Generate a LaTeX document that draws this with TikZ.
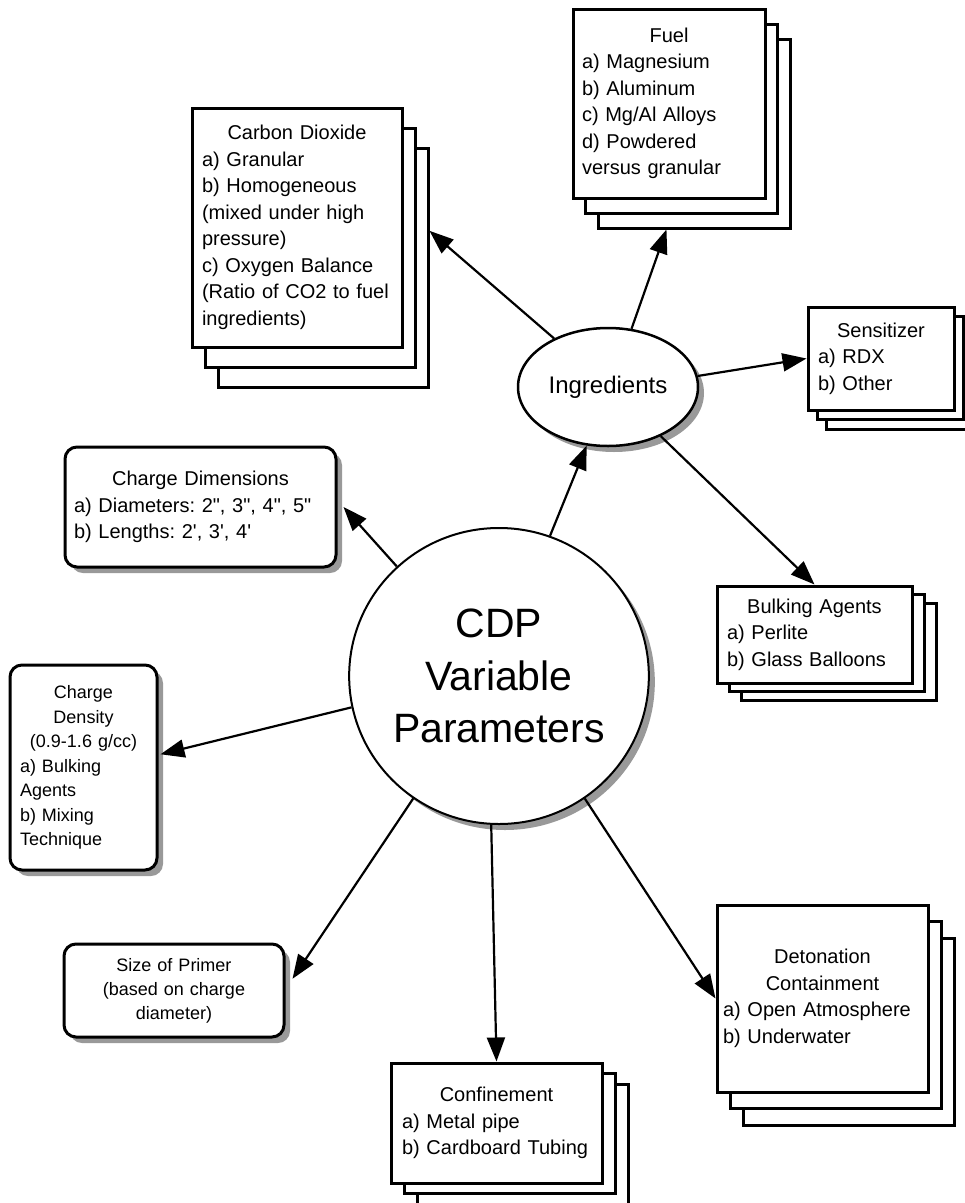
\documentclass[tikz,border=0pt]{standalone}
\usepackage{fontspec}
\newfontfamily\hv{Liberation Sans}
\usetikzlibrary{shapes.geometric,shadows,arrows.meta}
\newcommand\ctrline[1]{\makebox[\hsize]{#1}}
\frenchspacing
\begin{document}
\begin{tikzpicture}[x=1pt,y=-1pt,
  txt/.style={font=\hv\frenchspacing\fontsize{20}{26.5}\selectfont},
  smalltxt/.style={font=\hv\frenchspacing\fontsize{18}{24.5}\selectfont},
  page/.style={draw, line width=3pt, fill=white, rectangle, inner sep=0pt},
  pagetxt/.style={page, txt, align=left},
  sh/.style={drop shadow={shadow xshift=6pt, shadow yshift=-6pt, fill=black!40, opacity=1}},
  rbox/.style={draw, line width=3pt, fill=white, rectangle, rounded corners=12pt, inner sep=0pt, sh},
  arr/.style={line width=2.2pt, -{Triangle[length=24pt,width=18pt]}},
]
\fill[white] (0,0) rectangle (965,1203);
\useasboundingbox (0,0) rectangle (965,1203);

% Carbon Dioxide stack
\node[page, minimum width=210pt, minimum height=239pt] (co2-3) at (323,267.5) {};
\node[page, minimum width=210pt, minimum height=239pt] (co2-2) at (310,247.5) {};
\node[pagetxt, minimum width=210pt, minimum height=239pt, text width=190pt, inner xsep=10pt] (co2) at (297,227.5)
  {\ctrline{Carbon Dioxide}\\ a) Granular\\ b) Homogeneous\\ (mixed under high\\ pressure)\\ c) Oxygen Balance\\ (Ratio of CO2 to fuel\\ ingredients)};

% Fuel stack
\node[page, minimum width=192pt, minimum height=189pt] (fuel-3) at (694,133.5) {};
\node[page, minimum width=192pt, minimum height=189pt] (fuel-2) at (681.5,118.5) {};
\node[pagetxt, minimum width=192pt, minimum height=189pt, text width=174pt, inner xsep=9pt] (fuel) at (669,103.5)
  {\ctrline{Fuel}\\ a) Magnesium\\ b) Aluminum\\ c) Mg/Al Alloys\\ d) Powdered\\ versus granular};

% Sensitizer stack
\node[page, minimum width=146pt, minimum height=103pt] (sens-3) at (899,377.5) {};
\node[page, minimum width=146pt, minimum height=103pt] (sens-2) at (890,368) {};
\node[pagetxt, minimum width=146pt, minimum height=103pt, text width=126pt, inner xsep=10pt] (sens) at (881,358.5)
  {\ctrline{Sensitizer}\\ a) RDX\\ b) Other};

% Bulking Agents stack
\node[page, minimum width=195pt, minimum height=97pt] (bulk-3) at (838.5,651.5) {};
\node[page, minimum width=195pt, minimum height=97pt] (bulk-2) at (826.5,643) {};
\node[pagetxt, minimum width=195pt, minimum height=97pt, text width=175pt, inner xsep=10pt] (bulk) at (814.5,634.5)
  {\ctrline{Bulking Agents}\\ a) Perlite\\ b) Glass Balloons};

% Confinement stack
\node[page, minimum width=211pt, minimum height=120pt] (conf-3) at (522.5,1144) {};
\node[page, minimum width=211pt, minimum height=120pt] (conf-2) at (509.5,1133.5) {};
\node[pagetxt, minimum width=211pt, minimum height=120pt, text width=189pt, inner xsep=11pt] (conf) at (496.5,1123)
  {\ctrline{Confinement}\\ a) Metal pipe\\ b) Cardboard Tubing};

% Detonation Containment stack
\node[page, minimum width=211pt, minimum height=187pt] (det-3) at (848.5,1031.5) {};
\node[page, minimum width=211pt, minimum height=187pt] (det-2) at (835.5,1015) {};
\node[pagetxt, minimum width=211pt, minimum height=187pt, text width=199pt, inner xsep=6pt] (det) at (822.5,998.5)
  {\ctrline{Detonation}\\ \ctrline{Containment}\\ a) Open Atmosphere\\ b) Underwater};

% Rounded boxes
\node[rbox, txt, align=left, minimum width=271pt, minimum height=120pt, text width=253pt, inner xsep=9pt] (cdim) at (200.5,507)
  {\ctrline{Charge Dimensions}\\ a) Diameters: 2", 3", 4", 5"\\ b) Lengths: 2', 3', 4'};
\node[rbox, smalltxt, align=left, minimum width=147pt, minimum height=205pt, text width=127pt, inner xsep=10pt] (cden) at (83.5,767.5)
  {\ctrline{Charge}\\ \ctrline{Density}\\ \ctrline{(0.9-1.6 g/cc)}\\ a) Bulking\\ Agents\\ b) Mixing\\ Technique};
\node[rbox, font=\hv\frenchspacing\fontsize{18}{24}\selectfont, align=center, minimum width=220pt, minimum height=93pt, text width=200pt, inner xsep=10pt] (primer) at (174,990.5)
  {Size of Primer\\ (based on charge\\ diameter)};

% Ellipses
\node[draw, ellipse, line width=2.5pt, fill=white, sh, minimum width=180pt, minimum height=118pt, inner sep=0pt,
  font=\hv\fontsize{24}{28}\selectfont] (ingr) at (608,387) {Ingredients};
\node[draw, ellipse, line width=2pt, fill=white, sh, minimum width=288pt, minimum height=296pt, inner sep=0pt,
  align=center, font=\hv\fontsize{41}{52.5}\selectfont] (cdp) at (499,676) {CDP\\Variable\\Parameters};

% Connectors
\draw[arr] (ingr.138) -- (co2-3.19.7);
\draw[arr] (ingr.68) -- (fuel-3.254.6);
\draw[arr] (ingr.7) -- (sens.west);
\draw[arr] (ingr.317) -- (bulk.north);
\draw[arr] (cdp.70) -- (ingr.250);
\draw[arr] (cdp.133.4) -- ([xshift=6pt]cdim.east);
\draw[arr] (cdp.192.8) -- ([xshift=2pt]cden.10.3);
\draw[arr] (cdp.235.5) -- ([xshift=7pt]primer.6.5);
\draw[arr] (cdp.267.7) -- (conf.north);
\draw[arr] (cdp.305.2) -- (det.west);
\end{tikzpicture}
\end{document}
